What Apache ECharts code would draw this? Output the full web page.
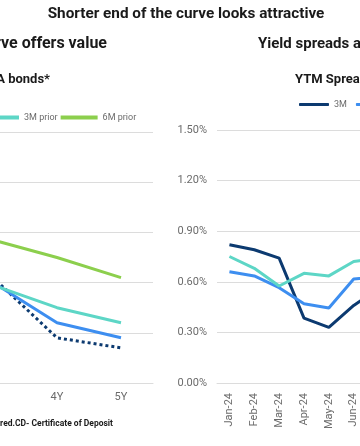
<!DOCTYPE html>
<html>
<head>
<meta charset="utf-8">
<script src="https://cdn.jsdelivr.net/npm/echarts@6/dist/echarts.min.js"></script>
<style>
html,body{margin:0;padding:0;width:360px;height:446px;overflow:hidden;background:#fff;}
#wrap{position:absolute;left:0;top:0;width:360px;height:446px;overflow:hidden;}
#chart{position:absolute;left:-300px;top:0;width:960px;height:446px;}
</style>
</head>
<body>
<div id="wrap"><div id="chart"></div></div>
<script>
// ---- data ----
const mainTitle = 'Shorter end of the curve looks attractive';
const leftTitle = 'Short end of the curve offers value';
const rightTitle = 'Yield spreads are attractive';
const leftSubtitle = 'YTM of AAA bonds*';
const rightSubtitle = 'YTM Spreads over benchmark';
const footnote = '*Data for AAA-rated PSU bonds considered.CD- Certificate of Deposit';

const tenors = ['1Y', '2Y', '3Y', '4Y', '5Y'];
const curveNames = ['Current', '1M prior', '3M prior', '6M prior'];
const curveCurrent = [7.62, 7.45, 7.22, 6.98, 6.94];
const curve1M = [7.55, 7.38, 7.20, 7.04, 6.98];
const curve3M = [7.50, 7.33, 7.19, 7.10, 7.04];
const curve6M = [7.68, 7.52, 7.37, 7.30, 7.22];
const leftTicks = [6.8, 7.0, 7.2, 7.4, 7.6, 7.8];

const months = ['Jan-24', 'Feb-24', 'Mar-24', 'Apr-24', 'May-24', 'Jun-24', 'Jul-24'];
const spreadNames = ['3M', '6M', '1Y'];
const spread3M = [0.82, 0.79, 0.74, 0.385, 0.33, 0.46, 0.56];
const spread6M = [0.66, 0.635, 0.565, 0.47, 0.445, 0.617, 0.63];
const spread1Y = [0.75, 0.68, 0.575, 0.65, 0.635, 0.72, 0.74];
const rightTicks = [0, 0.3, 0.6, 0.9, 1.2, 1.5];

// ---- style ----
const NAVY = '#0c3a70', BLUE = '#3d8ef0', TEAL = '#5dd6c6', GREEN = '#8ccf4d';
const GRID = '#dcdcdc', LABEL = '#6b6b6b', DARK = '#1a1a1a';
const FONT = 'Roboto, "Noto Sans", sans-serif';

const chart = echarts.init(document.getElementById('chart'), null, {renderer: 'canvas'});

function txt(text, x, y, size, align, weight) {
  return {type: 'text', x: x, y: y, silent: true,
    style: {text: text, fill: DARK, font: (weight || 'bold') + ' ' + size + 'px ' + FONT,
      textAlign: align, textVerticalAlign: 'middle'}};
}

const option = {
  animation: false,
  backgroundColor: '#fff',
  graphic: [
    txt(mainTitle, 486, 14, 15.3, 'center'),
    txt(leftTitle, 407, 44, 16, 'right'),
    txt(rightTitle, 558, 44, 15, 'left'),
    txt(leftSubtitle, 350, 80, 13, 'right'),
    txt(rightSubtitle, 595, 80, 13, 'left'),
    txt(footnote, 413, 424, 8.5, 'right')
  ],
  legend: [
    {data: curveNames.slice(0, 2), left: 0, top: 108, padding: 5, itemGap: 3,
      itemWidth: 37, itemHeight: 4, icon: 'rect',
      textStyle: {fontSize: 9, color: LABEL, fontFamily: FONT}},
    {data: curveNames.slice(2), left: 277, top: 108, padding: 5, itemGap: 3,
      itemWidth: 37, itemHeight: 4, icon: 'rect',
      textStyle: {fontSize: 9, color: LABEL, fontFamily: FONT}},
    {data: spreadNames, left: 594, top: 95, padding: 5, itemGap: 9,
      itemWidth: 30, itemHeight: 3, icon: 'roundRect',
      textStyle: {fontSize: 9, color: LABEL, fontFamily: FONT}}
  ],
  grid: [
    {left: 133, top: 132, width: 320, height: 251, containLabel: false},
    {left: 517, top: 130, width: 174, height: 253, containLabel: false}
  ],
  xAxis: [
    {type: 'category', gridIndex: 0, data: tenors, boundaryGap: true,
      axisLine: {lineStyle: {color: GRID}}, axisTick: {show: false},
      axisLabel: {color: LABEL, fontSize: 11, fontFamily: FONT, margin: 9}},
    {type: 'category', gridIndex: 1, data: months, boundaryGap: true,
      axisLine: {lineStyle: {color: GRID}}, axisTick: {show: false},
      axisLabel: {color: LABEL, fontSize: 11, fontFamily: FONT, rotate: 90, margin: 10, interval: 0}}
  ],
  yAxis: [
    {type: 'value', gridIndex: 0, min: leftTicks[0], max: leftTicks[leftTicks.length - 1], interval: 0.2,
      splitLine: {lineStyle: {color: GRID}}, axisLine: {show: false}, axisTick: {show: false},
      axisLabel: {color: LABEL, fontSize: 11, fontFamily: FONT, formatter: v => v.toFixed(2) + '%'}},
    {type: 'value', gridIndex: 1, min: rightTicks[0], max: rightTicks[rightTicks.length - 1], interval: 0.3,
      splitLine: {lineStyle: {color: GRID}}, axisLine: {show: false}, axisTick: {show: false},
      axisLabel: {color: LABEL, fontSize: 11, fontFamily: FONT, margin: 10, formatter: v => v.toFixed(2) + '%'}}
  ],
  series: [
    {name: curveNames[0], type: 'line', xAxisIndex: 0, yAxisIndex: 0, data: curveCurrent,
      showSymbol: false, color: NAVY, lineStyle: {width: 3, type: [3, 3], color: NAVY}},
    {name: curveNames[1], type: 'line', xAxisIndex: 0, yAxisIndex: 0, data: curve1M,
      showSymbol: false, color: BLUE, lineStyle: {width: 3, color: BLUE}},
    {name: curveNames[2], type: 'line', xAxisIndex: 0, yAxisIndex: 0, data: curve3M,
      showSymbol: false, color: TEAL, lineStyle: {width: 3, color: TEAL}},
    {name: curveNames[3], type: 'line', xAxisIndex: 0, yAxisIndex: 0, data: curve6M,
      showSymbol: false, color: GREEN, lineStyle: {width: 3, color: GREEN}},
    {name: spreadNames[0], type: 'line', xAxisIndex: 1, yAxisIndex: 1, data: spread3M,
      showSymbol: false, color: NAVY, lineStyle: {width: 3, color: NAVY}},
    {name: spreadNames[1], type: 'line', xAxisIndex: 1, yAxisIndex: 1, data: spread6M,
      showSymbol: false, color: BLUE, lineStyle: {width: 3, color: BLUE}},
    {name: spreadNames[2], type: 'line', xAxisIndex: 1, yAxisIndex: 1, data: spread1Y,
      showSymbol: false, color: TEAL, lineStyle: {width: 3, color: TEAL}}
  ]
};
chart.setOption(option);
</script>
</body>
</html>
